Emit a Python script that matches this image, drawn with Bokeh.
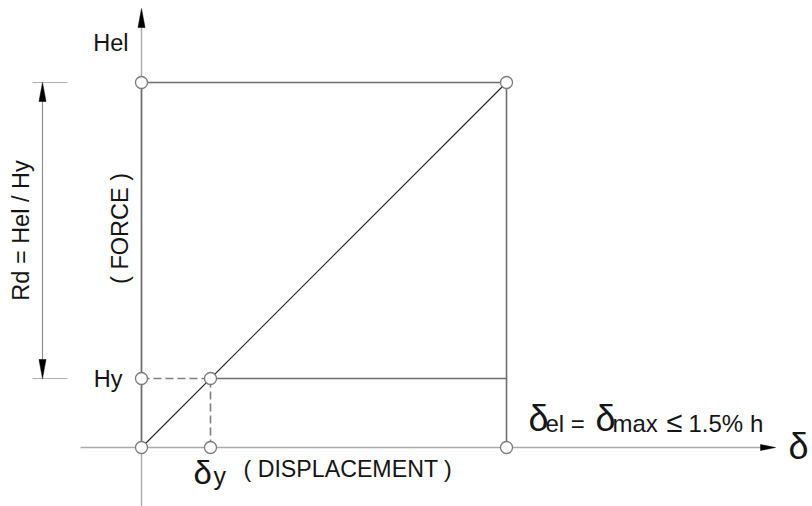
import numpy as np
from bokeh.plotting import figure
from bokeh.models import Range1d
from bokeh.core.properties import value
from bokeh.embed import file_html
from bokeh.resources import INLINE

# ---- data (normalised: yield point = 1) ----
displacement = [0.0, 1.0, 5.29]      # 0, delta_y, delta_el = delta_max
force = [0.0, 1.0, 5.29]             # 0, Hy, Hel
force_labels = ["Hel", "Hy"]
axis_titles = ["( FORCE )", "( DISPLACEMENT )"]
ratio_label = "Rd = Hel / Hy"
limit_label = ["\u03b4", "el =", "\u03b4", "max", "\u2264", "1.5% h"]

d0, dy, dmax = displacement
f0, hy, hel = force

PX = 1.0 / 69.0          # one screen pixel in data units
W, H = 812, 506
x0 = -141 * PX
y0 = -59 * PX

p = figure(width=W, height=H,
           x_range=Range1d(x0, x0 + W * PX), y_range=Range1d(y0, y0 + H * PX),
           x_axis_type=None, y_axis_type=None, toolbar_location=None,
           output_backend="svg", min_border=0, outline_line_color=None,
           background_fill_color="white", border_fill_color="white")

FONT = value("Liberation Sans")
AX = "#ababab"
BOX = "#6e6e6e"

# ---- axes ----
ytop = y0 + H * PX - 8 * PX
p.line([d0, d0], [y0, ytop - 16 * PX], line_color=AX, line_width=1.4)
xleft = -61 * PX
xtip = dmax + 269 * PX
p.line([xleft, xtip - 12 * PX], [f0, f0], line_color=AX, line_width=1.4)
# arrow heads
p.patch([d0, d0 - 3.5 * PX, d0 + 3.5 * PX], [ytop, ytop - 19 * PX, ytop - 19 * PX],
        fill_color="black", line_color="black", line_width=0.5)
p.patch([xtip, xtip - 15 * PX, xtip - 15 * PX], [f0, f0 + 3 * PX, f0 - 3 * PX],
        fill_color="black", line_color="black", line_width=0.5)

# ---- envelope box ----
p.line([d0, d0, dmax, dmax], [f0, hel, hel, f0], line_color=BOX, line_width=1.6)
p.line([dy, dmax], [hy, hy], line_color=BOX, line_width=1.6)
# dashed yield guides
p.line([d0, dy], [hy, hy], line_color="#7e7e7e", line_width=1.6, line_dash="8 4")
p.line([dy, dy], [f0, hy], line_color="#7e7e7e", line_width=1.6, line_dash="8 4")
# elastic line
p.line([d0, dmax], [f0, hel], line_color="#222222", line_width=1.1)

# ---- points ----
px_pts = [d0, d0, dy, dy, d0, dmax, dmax]
py_pts = [f0, hy, hy, f0, hel, hel, f0]
p.scatter(px_pts, py_pts, size=12, marker="circle", fill_color="white",
          line_color="#7a7a7a", line_width=1.3)

# ---- Rd dimension ----
xd = d0 - 99 * PX
p.line([xd, xd], [hel - 18 * PX, hy + 18 * PX], line_color="#8a8a8a", line_width=1.1)
p.line([xd - 10 * PX, xd + 25 * PX], [hel, hel], line_color="#b0b0b0", line_width=1.1)
p.line([xd - 10 * PX, xd + 25 * PX], [hy, hy], line_color="#b0b0b0", line_width=1.1)
p.patch([xd, xd - 3.5 * PX, xd + 3.5 * PX], [hel, hel - 19 * PX, hel - 19 * PX],
        fill_color="black", line_color="black", line_width=0.5)
p.patch([xd, xd - 3.5 * PX, xd + 3.5 * PX], [hy, hy + 19 * PX, hy + 19 * PX],
        fill_color="black", line_color="black", line_width=0.5)

TC = "#151515"
def txt(x, y, s, size, align="left", baseline="alphabetic", angle=0.0):
    p.text(x=[x], y=[y], text=[s], text_font=FONT, text_font_size=size,
           text_align=align, text_baseline=baseline, text_color=TC, angle=angle)

FS = "23.5px"
# force labels
txt(d0 - 13 * PX, hel + 39 * PX, force_labels[0], FS, align="right")
txt(d0 - 19 * PX, hy + 0 * PX, force_labels[1], FS, align="right")
# axis titles
txt(d0 - 22 * PX, (hel + hy) / 2 + 2 * PX, axis_titles[0], FS, align="center", angle=np.pi / 2)
txt(dy + 33 * PX, f0 - 21 * PX, axis_titles[1], "23.2px")
# Rd label
txt(d0 - 121 * PX, (hel + hy) / 2, ratio_label, FS, align="center", angle=np.pi / 2)
# delta_y label
txt(dy - 17 * PX, f0 - 25 * PX, "\u03b4", "33px")
txt(dy + 3 * PX, f0 - 28 * PX, "y", "25px")
# limit label
txt(dmax + 22 * PX, f0 + 29 * PX, limit_label[0], "36px")
txt(dmax + 39 * PX, f0 + 24 * PX, limit_label[1], "24px")
txt(dmax + 89 * PX, f0 + 29 * PX, limit_label[2], "36px")
txt(dmax + 106 * PX, f0 + 24 * PX, limit_label[3], "24px")
txt(dmax + 160 * PX, f0 + 26 * PX, limit_label[4], "29px")
txt(dmax + 182 * PX, f0 + 24 * PX, limit_label[5], "24px")
# axis delta
txt(xtip + 13 * PX, f0 + 1 * PX, "\u03b4", "36px")

open("out.html", "w").write(file_html(p, INLINE))
